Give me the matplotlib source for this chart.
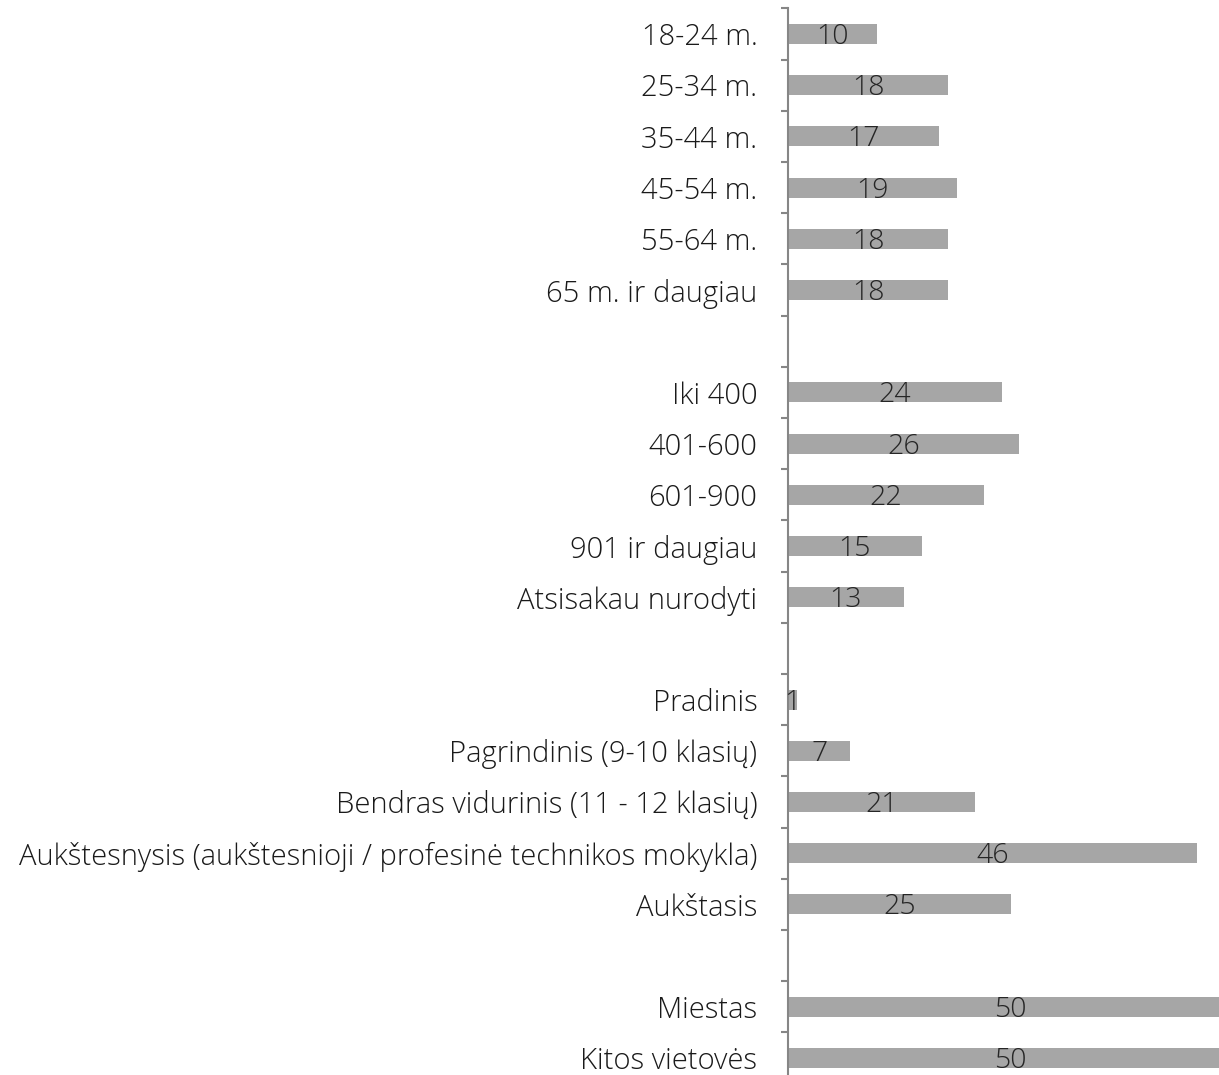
import matplotlib
matplotlib.use("Agg")
import matplotlib.pyplot as plt
import numpy as np

categories = ["18-24 m.", "25-34 m.", "35-44 m.", "45-54 m.", "55-64 m.", "65 m. ir daugiau", "",
              "Iki 400", "401-600", "601-900", "901 ir daugiau", "Atsisakau nurodyti", "",
              "Pradinis", "Pagrindinis (9-10 klasių)", "Bendras vidurinis (11 - 12 klasių)",
              "Aukštesnysis (aukštesnioji / profesinė technikos mokykla)", "Aukštasis", "",
              "Miestas", "Kitos vietovės"]
values = [10, 18, 17, 19, 18, 18, None,
          24, 26, 22, 15, 13, None,
          1, 7, 21, 46, 25, None,
          50, 50]

plt.rcParams['font.family'] = ['Open Sans', 'DejaVu Sans']

W, H = 1219, 1075
fig = plt.figure(figsize=(W / 100, H / 100), dpi=100)
left = 788 / W
top_px = 8.4
slot = 51.2
n = len(categories)
height_px = slot * n
ax = fig.add_axes([left, (H - top_px - height_px) / H, 1 - left, height_px / H])

y = np.arange(n)
for i, v in enumerate(values):
    if v is None:
        continue
    ax.barh(y[i], v, height=0.39, color='#A6A6A6', zorder=2)
    ax.text(v / 2, y[i] + 0.06, str(v), ha='center', va='center', fontsize=20.5,
            color='#262626', fontweight='light', zorder=3)

ax.set_ylim(n - 0.5, -0.5)
ax.set_xlim(0, 431 / 8.9)
ax.set_yticks(y)
ax.set_yticklabels(categories, fontsize=21, color='#1a1a1a', fontweight='light')
ax.set_yticks(np.arange(n + 1) - 0.5, minor=True)
ax.tick_params(axis='y', which='major', length=0, pad=22)
ax.tick_params(axis='y', which='minor', length=5, color='#868686', width=1.5)
ax.set_xticks([])
for s in ['top', 'right', 'bottom']:
    ax.spines[s].set_visible(False)
ax.spines['left'].set_color('#868686')
ax.spines['left'].set_linewidth(1.5)

fig.savefig('out.png', dpi=100)
